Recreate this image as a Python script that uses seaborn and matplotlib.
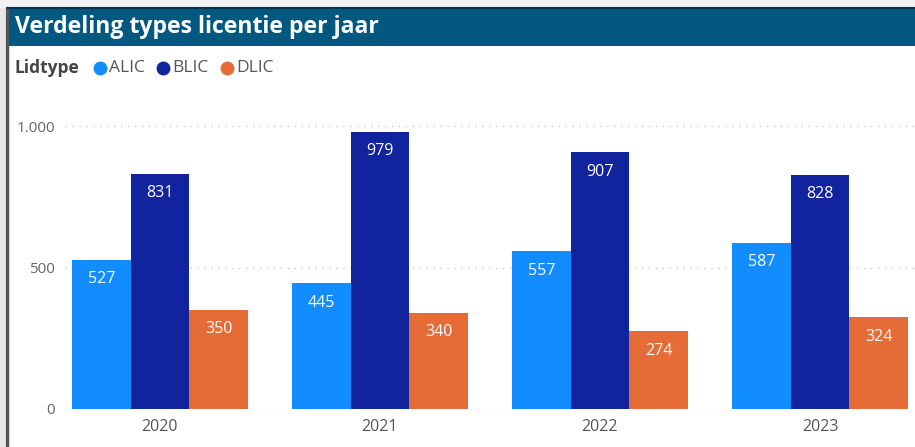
import matplotlib
matplotlib.use("Agg")
import matplotlib.pyplot as plt
import seaborn as sns
import pandas as pd
from matplotlib.patches import Rectangle
from matplotlib.lines import Line2D
from matplotlib.ticker import FuncFormatter

years = ["2020", "2021", "2022", "2023"]
types = ["ALIC", "BLIC", "DLIC"]
alic = [527, 445, 557, 587]
blic = [831, 979, 907, 828]
dlic = [350, 340, 274, 324]
colors = ["#118DFF", "#12239E", "#E66C37"]

rows = []
for t, vals in zip(types, [alic, blic, dlic]):
    for y, v in zip(years, vals):
        rows.append({"Jaar": y, "Lidtype": t, "Aantal": v})
df = pd.DataFrame(rows)

sns.set_theme(style="white")
plt.rcParams["font.family"] = ["Open Sans", "DejaVu Sans"]

W, H = 915, 447
fig = plt.figure(figsize=(W / 100, H / 100), dpi=100)

def fx(px):
    return px / W

def fy(py):
    return 1 - py / H

# axes placement (pixels)
ax_left, ax_right, ax_top, ax_bottom = 65, 915, 100, 409
ax = fig.add_axes([fx(ax_left), fy(ax_bottom), fx(ax_right - ax_left), (ax_bottom - ax_top) / H])

sns.barplot(data=df, x="Jaar", y="Aantal", hue="Lidtype", hue_order=types,
            palette=colors, width=0.8, gap=0, ax=ax, legend=False,
            saturation=1, edgecolor="none", linewidth=0)

px_per_unit = 220
cx0 = 160
ax.set_xlim((ax_left - cx0) / px_per_unit, (ax_right - cx0) / px_per_unit)
ax.set_ylim(0, 1000 * (ax_bottom - ax_top) / (409 - 126))
ax.set_yticks([0, 500, 1000])
ax.yaxis.set_major_formatter(FuncFormatter(lambda v, p: f"{int(v):,}".replace(",", ".")))
ax.grid(axis="y", linestyle=(0, (1, 4)), color="#c8c8c8", linewidth=1.0)
ax.set_axisbelow(True)
for s in ax.spines.values():
    s.set_visible(False)
ax.set_xlabel("")
ax.set_ylabel("")
ax.tick_params(axis="y", length=0, pad=7, labelsize=11, labelcolor="#666666")
ax.tick_params(axis="x", length=0, pad=7.5, labelsize=11.5, labelcolor="#555555")

for cont in ax.containers:
    for bar in cont:
        h = bar.get_height()
        ax.annotate(f"{int(round(h))}", xy=(bar.get_x() + bar.get_width() / 2, h),
                    xytext=(0, -14), textcoords="offset points",
                    ha="center", va="center", color="white", fontsize=11.5)

# frame decorations
fig.patches.append(Rectangle((fx(0), fy(447)), fx(5), 1, transform=fig.transFigure,
                             facecolor="#e6e6e6", edgecolor="none", zorder=0))
fig.lines.append(Line2D([fx(7), fx(7)], [fy(8), 0], transform=fig.transFigure,
                        color="#555555", linewidth=2.5))
fig.patches.append(Rectangle((fx(0), fy(8)), 1, 8 / H, transform=fig.transFigure,
                             facecolor="#f2f2f2", edgecolor="none"))
fig.patches.append(Rectangle((fx(7), fy(46)), 1, 38 / H, transform=fig.transFigure,
                             facecolor="#03587F", edgecolor="none"))
fig.lines.append(Line2D([fx(7), 1], [fy(8), fy(8)], transform=fig.transFigure,
                        color="#0a3550", linewidth=1.5))

fig.text(fx(15), fy(27), "Verdeling types licentie per jaar", color="white",
         fontsize=16.6, fontweight="bold", va="center", ha="left")

# legend
fig.text(fx(15), fy(68), "Lidtype", color="#444444", fontsize=12.5,
         fontweight="bold", va="center", ha="left")
leg_x = [100, 163, 227]
for x0, t, c in zip(leg_x, types, colors):
    fig.lines.append(Line2D([fx(x0)], [fy(68)], transform=fig.transFigure, marker="o",
                            markersize=9, color=c, linestyle="none"))
    fig.text(fx(x0 + 9), fy(68), t, color="#555555", fontsize=12.5, va="center", ha="left")

fig.savefig("out.png", dpi=100)
